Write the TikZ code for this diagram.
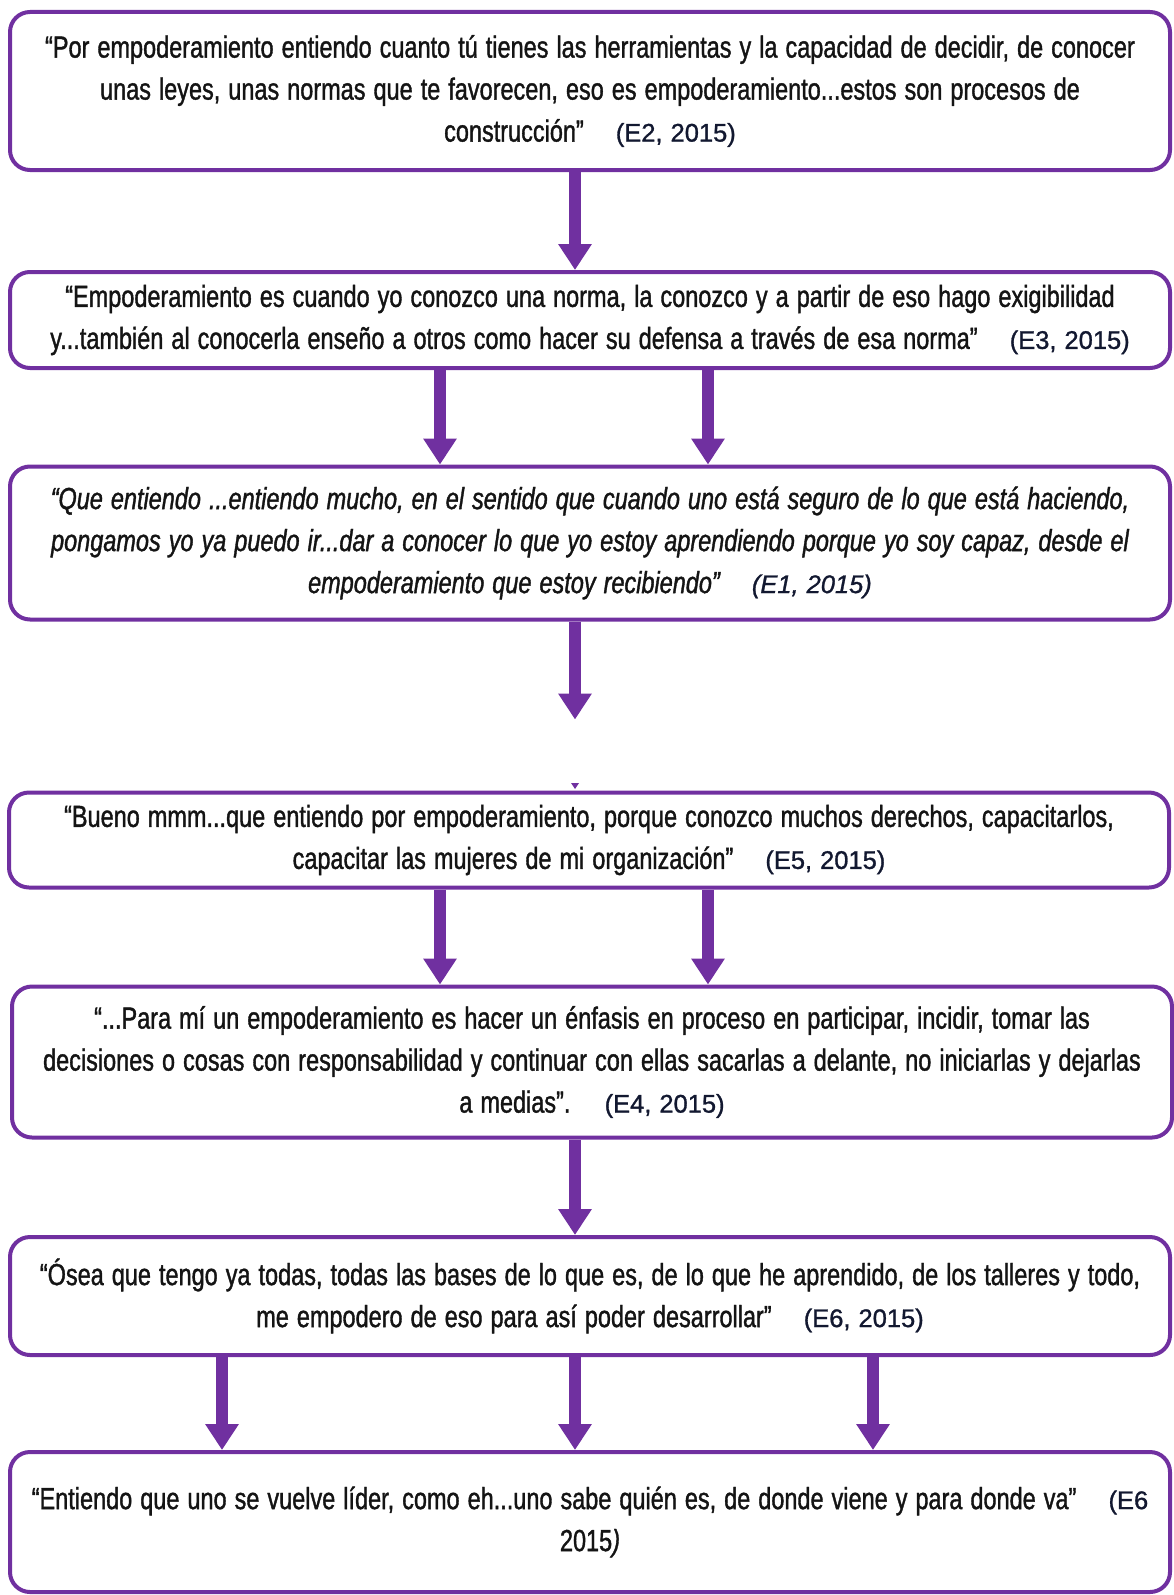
\documentclass[tikz,border=0pt]{standalone}
\usepackage{fontspec}
\setmainfont{Liberation Sans}[FakeStretch=0.77, FakeBold=1.2]
\newfontfamily\citefont{Liberation Sans}[FakeBold=1.1]
\usetikzlibrary{arrows.meta}
\definecolor{quotepurple}{HTML}{7030A0}
\definecolor{quoteink}{HTML}{141414}
\definecolor{citeink}{HTML}{121830}
\newcommand{\quotefont}{\fontsize{30.5}{42}\selectfont\spaceskip=8pt plus 2pt minus 1pt\relax}
\tikzstyle{quotebox}=[draw=quotepurple, line width=4pt, rounded corners=20pt, minimum width=1160pt, align=center, inner sep=0pt, text=quoteink, font=\quotefont]
\tikzstyle{flow}=[quotepurple, line width=12pt, -{Triangle[width=32pt,length=26pt]}]
\newcommand{\refE}[1]{\hspace{24pt}{\citefont\fontsize{25.5}{42}\selectfont\color{citeink}#1}}

\begin{document}
\begin{tikzpicture}[x=1pt, y=-1pt]
      \useasboundingbox (0,0) rectangle (1173,1595);
      \coordinate (left) at (440,0);
      \coordinate (mid) at (575,0);
      \coordinate (right) at (708,0);
      \coordinate (far left) at (222,0);
      \coordinate (far right) at (873,0);

      \node[quotebox, minimum height=158pt] (e2) at (590,91)
        {“Por empoderamiento entiendo cuanto tú tienes las herramientas y la capacidad de decidir, de conocer\\
         unas leyes, unas normas que te favorecen, eso es empoderamiento...estos son procesos de\\
         construcción” \refE{(E2, 2015)}};
      \node[quotebox, minimum height=96pt] (e3) at (590,320)
        {“Empoderamiento es cuando yo conozco una norma, la conozco y a partir de eso hago exigibilidad\\
         y...también al conocerla enseño a otros como hacer su defensa a través de esa norma” \refE{(E3, 2015)}};
      \node[quotebox, minimum height=153pt, font=\quotefont\itshape] (e1) at (590,543)
        {“Que entiendo ...entiendo mucho, en el sentido que cuando uno está seguro de lo que está haciendo,\\
         pongamos yo ya puedo ir...dar a conocer lo que yo estoy aprendiendo porque yo soy capaz, desde el\\
         empoderamiento que estoy recibiendo” \refE{\itshape(E1, 2015)}};
      \node[quotebox, minimum height=95pt] (e5) at (589,840)
        {“Bueno mmm...que entiendo por empoderamiento, porque conozco muchos derechos, capacitarlos,\\
         capacitar las mujeres de mi organización” \refE{(E5, 2015)}};
      \node[quotebox, minimum height=151pt] (e4) at (592,1062)
        {“...Para mí un empoderamiento es hacer un énfasis en proceso en participar, incidir, tomar las\\
         decisiones o cosas con responsabilidad y continuar con ellas sacarlas a delante, no iniciarlas y dejarlas\\
         a medias”. \refE{(E4, 2015)}};
      \node[quotebox, minimum height=118pt] (e6) at (590,1296)
        {“Ósea que tengo ya todas, todas las bases de lo que es, de lo que he aprendido, de los talleres y todo,\\
         me empodero de eso para así poder desarrollar” \refE{(E6, 2015)}};
      \node[quotebox, minimum height=140pt] (e6b) at (590,1522)
        {“Entiendo que uno se vuelve líder, como eh...uno sabe quién es, de donde viene y para donde va” \refE{(E6}\\
         2015\textit{)}};

      \draw[flow] (e2.south -| mid) -- (e3.north -| mid);
      \draw[flow] (e3.south -| left) -- (e1.north -| left);
      \draw[flow] (e3.south -| right) -- (e1.north -| right);
      \draw[flow] (e1.south -| mid) -- ++(0,98);
      \fill[quotepurple] (571,783) -- (579,783) -- (575,789) -- cycle;
      \draw[flow] (e5.south -| left) -- (e4.north -| left);
      \draw[flow] (e5.south -| right) -- (e4.north -| right);
      \draw[flow] (e4.south -| mid) -- (e6.north -| mid);
      \draw[flow] (e6.south -| far left) -- (e6b.north -| far left);
      \draw[flow] (e6.south -| mid) -- (e6b.north -| mid);
      \draw[flow] (e6.south -| far right) -- (e6b.north -| far right);
    \end{tikzpicture}
\end{document}
